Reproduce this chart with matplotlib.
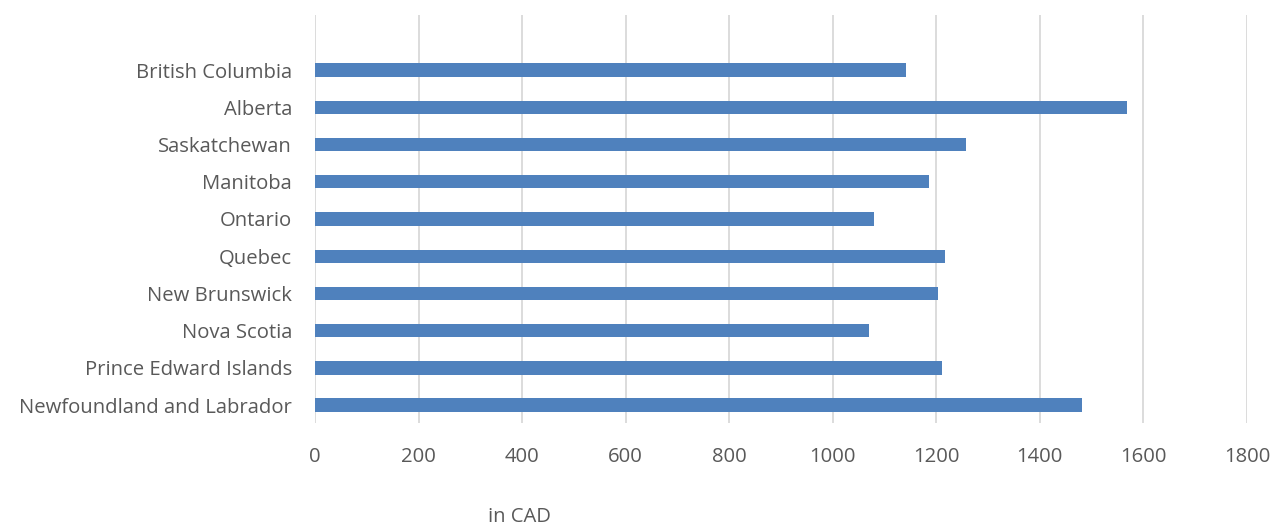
import matplotlib.pyplot as plt
import numpy as np

provinces = ['Newfoundland and Labrador', 'Prince Edward Islands', 'Nova Scotia',
             'New Brunswick', 'Quebec', 'Ontario', 'Manitoba', 'Saskatchewan',
             'Alberta', 'British Columbia']
values = [1482, 1210, 1069, 1203, 1217, 1079, 1186, 1257, 1568, 1142]
xticks = [0, 200, 400, 600, 800, 1000, 1200, 1400, 1600, 1800]

plt.rcParams['font.family'] = ['Open Sans', 'DejaVu Sans']
grey = '#595959'

fig = plt.figure(figsize=(12.74, 5.25), dpi=100)
ax = fig.add_axes([315/1274, 102/525, 932/1274, 408/525])

y = np.arange(len(provinces))
ax.barh(y, values, height=0.36, color='#4f81bd', zorder=3)

ax.set_xlim(0, 1800)
ax.set_ylim(-0.48, len(provinces) - 1 + 1.48)
ax.set_xticks(xticks)
ax.set_xticklabels([str(v) for v in xticks])
ax.set_yticks(y)
ax.set_yticklabels(provinces)
ax.grid(axis='x', color='#d9d9d9', linewidth=1.3, zorder=0)
for s in ax.spines.values():
    s.set_visible(False)
ax.tick_params(axis='both', length=0, labelsize=14.6, colors=grey)
ax.tick_params(axis='x', pad=17)
ax.tick_params(axis='y', pad=16.5)

fig.text(519/1274, 1 - 517/525, 'in CAD', ha='center', va='center', fontsize=14.6, color=grey)

fig.savefig('out.png', dpi=100)
